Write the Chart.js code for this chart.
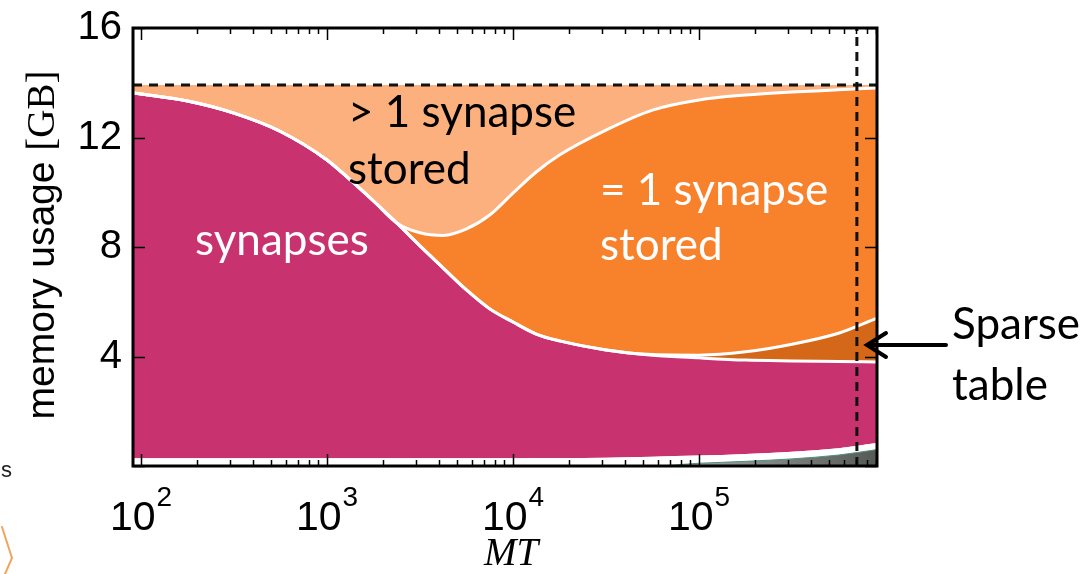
<!DOCTYPE html>
<html>
<head>
<meta charset="utf-8">
<script src="https://cdn.jsdelivr.net/npm/chart.js@4.4.0/dist/chart.umd.min.js"></script>
<style>
  html, body { margin: 0; padding: 0; background: #fff; }
  canvas { display: block; }
</style>
</head>
<body>
<canvas id="chart" width="1085" height="574"></canvas>
<script>
// MT values (x, log axis)
const mtValues = [90.6, 100, 178, 316, 562, 1000, 1334, 1778, 2371, 3162, 4217, 5623, 7499,
                  10000, 13335, 17783, 31623, 56234, 100000, 177828, 316228, 562341, 905700];

// boundaries of the stacked regions, memory in GB
const grayTop     = [0, 0, 0, 0, 0, 0, 0, 0, 0, 0, 0, 0, 0, 0, 0, 0, 0, 0, 0.1, 0.17, 0.26, 0.4, 0.6];
const whiteTop    = [0.28, 0.28, 0.28, 0.28, 0.28, 0.28, 0.28, 0.28, 0.28, 0.28, 0.28, 0.28, 0.28,
                     0.28, 0.29, 0.29, 0.3, 0.34, 0.38, 0.44, 0.52, 0.65, 0.84];
const synapsesTop = [13.63, 13.59, 13.33, 12.89, 12.22, 11.18, 10.45, 9.68, 8.88, 8.04, 7.23, 6.43, 5.74,
                     5.26, 4.82, 4.57, 4.24, 4.05, 3.95, 3.87, 3.84, 3.82, 3.80];
const sparseTop   = [13.63, 13.59, 13.33, 12.89, 12.22, 11.18, 10.45, 9.68, 8.88, 8.04, 7.23, 6.43, 5.74,
                     5.26, 4.82, 4.57, 4.24, 4.07, 4.05, 4.17, 4.45, 4.85, 5.4];
const oneStoredTop = [13.63, 13.59, 13.33, 12.89, 12.22, 11.18, 10.45, 9.68, 8.88, 8.52, 8.42, 8.66, 9.17,
                      9.97, 10.74, 11.36, 12.27, 13.0, 13.37, 13.55, 13.66, 13.74, 13.81];
const totalMemory = 13.92;
const markerMT = 706000;

const yTicks = [4, 8, 12, 16];
const xDecades = [2, 3, 4, 5];

const colors = {
    magenta: '#c8336f',
    light: '#fbb07e',
    orange: '#f8812c',
    brown: '#d56818',
    gray: '#6f746f'
};

const pts = arr => mtValues.map((v, i) => ({ x: v, y: arr[i] }));

function grayFill(context) {
    const area = context.chart.chartArea;
    if (!area) return colors.gray;
    const g = context.chart.ctx.createLinearGradient(690, 0, area.right, 0);
    g.addColorStop(0, '#a4a7a4');
    g.addColorStop(1, '#555a57');
    return g;
}

// frame, inward ticks, tick labels, annotations
const decor = {
    id: 'decor',
    afterDraw(chart) {
        const { ctx, chartArea: a, scales: { x, y } } = chart;
        ctx.save();

        // ticks
        ctx.strokeStyle = '#000';
        ctx.lineWidth = 1.5;
        for (let n = 1; n <= 6; n++) {
            for (let k = 1; k <= 9; k++) {
                const v = k * Math.pow(10, n);
                if (v < x.min || v > x.max) continue;
                const px = Math.round(x.getPixelForValue(v)) + 0.5;
                const len = k === 1 ? 12 : 6;
                ctx.beginPath();
                ctx.moveTo(px, a.bottom); ctx.lineTo(px, a.bottom - len);
                ctx.moveTo(px, a.top); ctx.lineTo(px, a.top + len);
                ctx.stroke();
            }
        }
        [0].concat(yTicks).forEach(v => {
            const py = Math.round(y.getPixelForValue(v)) + 0.5;
            ctx.beginPath();
            ctx.moveTo(a.left, py); ctx.lineTo(a.left + 12, py);
            ctx.moveTo(a.right, py); ctx.lineTo(a.right - 12, py);
            ctx.stroke();
        });

        // frame
        ctx.lineWidth = 3;
        ctx.strokeRect(a.left, a.top, a.right - a.left, a.bottom - a.top);

        // x tick labels 10^n
        ctx.fillStyle = '#000';
        ctx.textBaseline = 'alphabetic';
        ctx.textAlign = 'left';
        xDecades.forEach(n => {
            const px = x.getPixelForValue(Math.pow(10, n));
            ctx.font = '41px "Liberation Sans", Arial, sans-serif';
            const wb = ctx.measureText('10').width;
            ctx.font = '28px "Liberation Sans", Arial, sans-serif';
            const we = ctx.measureText(String(n)).width;
            const x0 = px - (wb + we + 1) / 2;
            ctx.font = '41px "Liberation Sans", Arial, sans-serif';
            ctx.fillText('10', x0, 530);
            ctx.font = '28px "Liberation Sans", Arial, sans-serif';
            ctx.fillText(String(n), x0 + wb + 1, 506);
        });

        // x axis title
        ctx.font = 'italic 39px "Liberation Serif", "Times New Roman", serif';
        ctx.textAlign = 'center';
        ctx.fillText('MT', 511, 565);

        // y axis title
        ctx.save();
        ctx.translate(54, 245);
        ctx.rotate(-Math.PI / 2);
        ctx.textAlign = 'left';
        const f1 = '39px "Liberation Sans", Arial, sans-serif';
        const f2 = '39px "Liberation Serif", "Times New Roman", serif';
        ctx.font = f1;
        const w1 = ctx.measureText('memory usage ').width;
        ctx.font = f2;
        const w2 = ctx.measureText('[GB]').width;
        const s = -(w1 + w2) / 2;
        ctx.font = f1;
        ctx.fillText('memory usage ', s, 0);
        ctx.font = f2;
        ctx.fillText('[GB]', s + w1, 0);
        ctx.restore();

        // region labels
        ctx.textAlign = 'left';
        ctx.font = '44px Lato, "Open Sans", sans-serif';
        ctx.fillStyle = '#000';
        ctx.fillText('> 1 synapse', 348, 127);
        ctx.fillText('stored', 348, 184);
        ctx.fillStyle = '#fff';
        ctx.fillText('synapses', 195, 255);
        ctx.fillText('= 1 synapse', 600, 205);
        ctx.fillText('stored', 600, 260);
        ctx.fillStyle = '#000';
        ctx.fillText('Sparse', 952, 339);
        ctx.fillText('table', 952, 400);

        // arrow to the sparse table region
        ctx.strokeStyle = '#000';
        ctx.lineWidth = 4;
        ctx.lineCap = 'round';
        ctx.beginPath();
        ctx.moveTo(946, 345); ctx.lineTo(868, 345);
        ctx.moveTo(886, 333); ctx.lineTo(867, 345); ctx.lineTo(886, 357);
        ctx.stroke();

        // remnants of the slide at the left edge
        ctx.font = '22px "Liberation Sans", Arial, sans-serif';
        ctx.fillStyle = '#222';
        ctx.fillText('s', 1, 477);
        ctx.strokeStyle = '#f0a55c';
        ctx.lineWidth = 2;
        ctx.beginPath();
        ctx.moveTo(2, 527); ctx.lineTo(12, 558); ctx.lineTo(5, 574);
        ctx.stroke();

        ctx.restore();
    }
};

const area = (data, bg, extra) => Object.assign({
    data: pts(data),
    backgroundColor: bg,
    borderColor: '#fff',
    borderWidth: 3,
    fill: '-1',
    pointRadius: 0,
    cubicInterpolationMode: 'monotone'
}, extra || {});

new Chart(document.getElementById('chart'), {
    type: 'line',
    data: {
        datasets: [
            area(grayTop, grayFill, { fill: 'origin', borderColor: '#4f8f80', borderWidth: 1 }),
            area(whiteTop, '#fff', { fill: '-1', borderWidth: 0 }),
            area(synapsesTop, colors.magenta),
            area(sparseTop, colors.brown),
            area(oneStoredTop, colors.orange),
            area(mtValues.map(() => totalMemory), colors.light, { borderWidth: 0 }),
            {
                data: [{ x: mtValues[0], y: totalMemory }, { x: mtValues[mtValues.length - 1], y: totalMemory }],
                borderColor: '#111', borderWidth: 3, borderDash: [9, 7],
                fill: false, pointRadius: 0, tension: 0, order: -1
            },
            {
                data: [{ x: markerMT, y: 0 }, { x: markerMT, y: 16 }],
                borderColor: '#111', borderWidth: 3, borderDash: [9, 6],
                fill: false, pointRadius: 0, tension: 0, order: -1
            }
        ]
    },
    options: {
        responsive: false,
        animation: false,
        devicePixelRatio: 1,
        layout: { padding: { left: 0, top: 28, right: 208, bottom: 0 } },
        plugins: {
            legend: { display: false },
            tooltip: { enabled: false },
            filler: { drawTime: 'beforeDatasetsDraw' }
        },
        scales: {
            x: {
                type: 'logarithmic',
                min: mtValues[0],
                max: mtValues[mtValues.length - 1],
                ticks: { display: false },
                grid: { display: false, drawTicks: false },
                border: { display: false },
                afterFit: s => { s.height = 108; s.paddingLeft = 0; s.paddingRight = 0; }
            },
            y: {
                min: 0,
                max: 16,
                ticks: {
                    stepSize: 4,
                    padding: 11,
                    color: '#000',
                    font: { family: '"Liberation Sans", Arial, sans-serif', size: 40 },
                    callback: v => yTicks.includes(v) ? String(v) : ''
                },
                grid: { display: false, drawTicks: false },
                border: { display: false },
                afterFit: s => { s.width = 133; s.paddingTop = 0; s.paddingBottom = 0; }
            }
        }
    },
    plugins: [decor]
});
</script>
</body>
</html>
